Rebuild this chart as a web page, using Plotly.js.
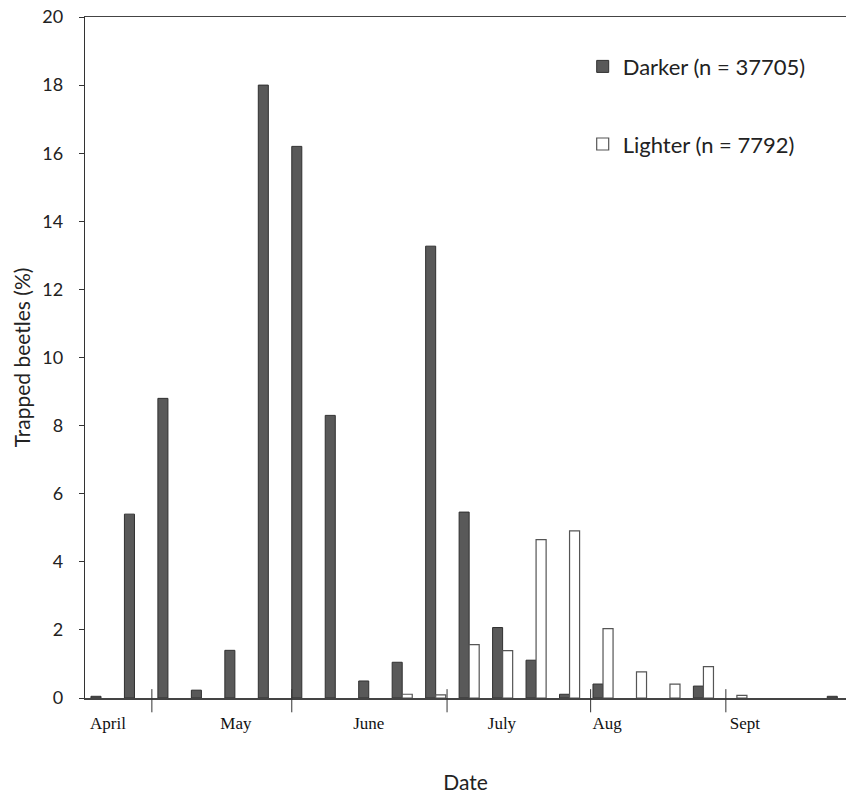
<!DOCTYPE html>
<html>
<head>
<meta charset="utf-8">
<script src="https://cdn.plot.ly/plotly-3.0.1.min.js"></script>
<style>html,body{margin:0;padding:0;background:#fff;}#chart{width:846px;height:794px;}</style>
</head>
<body>
<div id="chart"></div>
<script>
// Sampling periods (index along the season)
const periods = [0,1,2,3,4,5,6,7,8,9,10,11,12,13,14,15,16,17,18,19,20,21,22];
// Trapped beetles (%) per period
const darker  = [0.05,5.4,8.8,0.23,1.4,18.0,16.2,8.3,0.5,1.05,13.27,5.46,2.07,1.11,0.11,0.41,0,0,0.35,0,0,0,0.05];
const lighter = [0,0,0,0,0,0,0,0,0,0.11,0.09,1.57,1.39,4.65,4.91,2.04,0.77,0.41,0.92,0.08,0,0,0];
// Month labels and their positions along the period axis
const monthNames = ["April","May","June","July","Aug","Sept"];
const monthPos   = [0.21,4.03,8.0,11.98,15.12,19.24];
// Month boundaries (between periods)
const monthBounds = [1.52,5.70,10.34,14.63,18.67];

// zero values draw no bar (no outline)
const hideZero = arr => arr.map(v => v === 0 ? null : v);

const traces = [
  {type:'bar', name:'Darker (n = 37705)', x:periods, y:hideZero(darker), legendgroup:'d',
   marker:{color:'#595959', line:{color:'#303030', width:1}}},
  {type:'bar', name:'Lighter (n = 7792)', x:periods, y:hideZero(lighter), legendgroup:'l',
   marker:{color:'#ffffff', line:{color:'#555555', width:1.2}}}
];

const shapes = monthBounds.map(b => ({
  type:'line', xref:'x', yref:'paper', x0:b, x1:b, y0:-0.021, y1:0.013,
  line:{color:'#333', width:1}
}));

const layout = {
  width:846, height:794,
  margin:{l:85, r:0, t:17, b:96},
  paper_bgcolor:'#fff', plot_bgcolor:'#fff',
  barmode:'group', bargap:0.4, bargroupgap:0,
  font:{family:'Lato, "Liberation Sans", sans-serif', color:'#222'},
  xaxis:{
    range:[-0.478, 22.26], showgrid:false, zeroline:false,
    showline:true, linecolor:'#444', linewidth:1.5, mirror:true,
    tickmode:'array', tickvals:monthPos, ticktext:monthNames, ticks:'',
    tickfont:{family:'"Liberation Serif", "Times New Roman", serif', size:17, color:'#111'},
    ticklabelstandoff:9,
    title:{text:'Date', font:{family:'Lato, sans-serif', size:21, color:'#222'}, standoff:43}
  },
  yaxis:{
    range:[0,20], dtick:2, showgrid:false, zeroline:false,
    showline:true, linecolor:'#333', linewidth:1.2,
    ticks:'outside', ticklen:5, tickcolor:'#333',
    tickfont:{family:'Lato, sans-serif', size:18, color:'#222'},
    ticklabelstandoff:12,
    title:{text:'Trapped beetles (%)', font:{family:'Lato, sans-serif', size:21, color:'#222'}, standoff:6}
  },
  legend:{
    x:0.654, y:0.958, xanchor:'left', yanchor:'top',
    bgcolor:'rgba(0,0,0,0)', borderwidth:0,
    traceorder:'grouped', tracegroupgap:46,
    font:{family:'Lato, sans-serif', size:22, color:'#222'}
  },
  showlegend:true,
  shapes:shapes
};

Plotly.newPlot('chart', traces, layout, {displayModeBar:false, staticPlot:true});
</script>
</body>
</html>
